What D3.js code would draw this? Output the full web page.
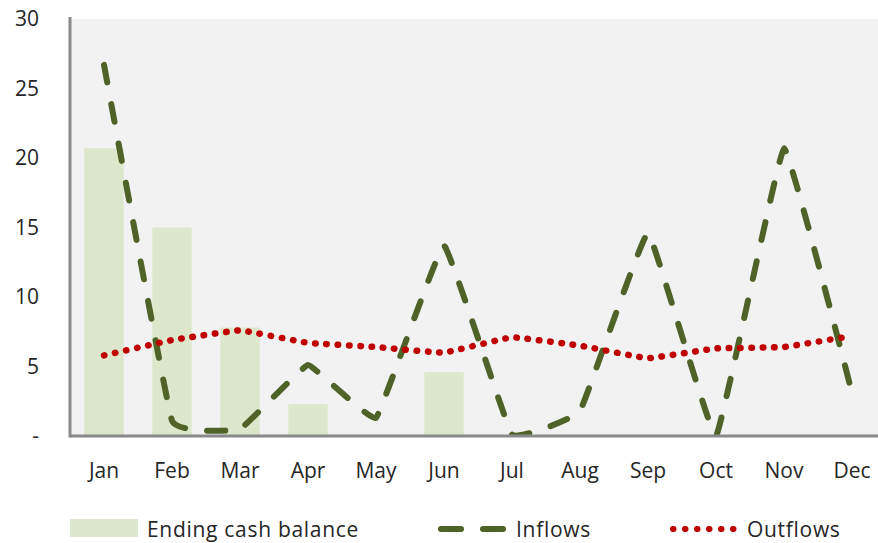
<!DOCTYPE html>
<html><head><meta charset="utf-8">
<script src="https://cdn.jsdelivr.net/npm/d3@7"></script>
<style>body{margin:0;background:#fff}svg{display:block}text{font-family:"Open Sans",sans-serif}</style>
</head><body>
<svg id="c" width="878" height="543"></svg>
<script>
const months = ["Jan","Feb","Mar","Apr","May","Jun","Jul","Aug","Sep","Oct","Nov","Dec"];
const endingCash = [20.7,15.0,7.8,2.3,0,4.6,0,0,0,0,0,0];
const inflows = [26.7,1.1,0.5,5.1,1.3,13.7,0.1,1.8,14.6,0,20.7,3.1];
const outflows = [5.8,6.9,7.6,6.7,6.4,6.0,7.1,6.5,5.6,6.3,6.4,7.2];
const yTicks = [0,5,10,15,20,25,30];
const yTickLabels = ["-","5","10","15","20","25","30"];
const legendLabels = ["Ending cash balance","Inflows","Outflows"];

const svg = d3.select("#c");
const pL = 70, pR = 886, pT = 19, pB = 436;
const x = d3.scaleBand().domain(months).range([pL, pR]).paddingInner(0.42).paddingOuter(0.21);
const y = d3.scaleLinear().domain([0,30]).range([pB, pT]);

svg.append("defs").append("clipPath").attr("id","pc").append("rect")
  .attr("x", pL).attr("y", 0).attr("width", 878-pL).attr("height", pB+1);

svg.append("rect").attr("x", pL).attr("y", pT).attr("width", 878-pL).attr("height", pB-pT).attr("fill","#f2f2f2");

svg.append("g").selectAll("rect").data(endingCash).join("rect")
  .attr("x",(d,i)=>x(months[i])).attr("width",x.bandwidth())
  .attr("y",d=>y(d)).attr("height",d=>pB-y(d)).attr("fill","#dde7cb");

const line = d3.line().x((d,i)=>x(months[i])+x.bandwidth()/2).y(d=>y(d)).curve(d3.curveCardinal.tension(0.78));

const g = svg.append("g").attr("clip-path","url(#pc)");
g.append("path").datum(inflows).attr("d",line).attr("fill","none").attr("stroke","#4f6228")
  .attr("stroke-width",6).attr("stroke-dasharray","18,22").attr("stroke-linecap","round").attr("stroke-linejoin","round");
g.append("path").datum(outflows).attr("d",line).attr("fill","none").attr("stroke","#c00000")
  .attr("stroke-width",6.5).attr("stroke-dasharray","0.5,10.8").attr("stroke-linecap","round");

// axes
const yAxis = d3.axisLeft(y).tickValues(yTicks).tickFormat((d,i)=>yTickLabels[i]).tickSize(0).tickPadding(31);
const ya = svg.append("g").attr("transform",`translate(${pL},0)`).call(yAxis);
ya.select(".domain").remove();
ya.selectAll("text").attr("font-size",21).attr("fill","#262626").attr("font-family","Open Sans, sans-serif");

const xAxis = d3.axisBottom(x).tickSize(0).tickPadding(27);
const xa = svg.append("g").attr("transform",`translate(0,${pB})`).call(xAxis);
xa.select(".domain").remove();
xa.selectAll("text").attr("font-size",21).attr("fill","#262626").attr("font-family","Open Sans, sans-serif");

svg.append("line").attr("x1",pL).attr("x2",878).attr("y1",pB).attr("y2",pB).attr("stroke","#898989").attr("stroke-width",3);
svg.append("line").attr("x1",pL).attr("x2",pL).attr("y1",17).attr("y2",pB+1.5).attr("stroke","#898989").attr("stroke-width",3);

// legend
const lg = svg.append("g").attr("font-size",21).attr("fill","#262626").attr("letter-spacing","0.7px");
lg.append("rect").attr("x",70).attr("y",519).attr("width",68).attr("height",18).attr("fill","#dde7cb");
lg.append("text").attr("x",147).attr("y",537).text(legendLabels[0]);
lg.append("line").attr("x1",441).attr("x2",503).attr("y1",529).attr("y2",529).attr("stroke","#4f6228").attr("stroke-width",6).attr("stroke-dasharray","20,22").attr("stroke-linecap","round");
lg.append("text").attr("x",516).attr("y",537).text(legendLabels[1]);
lg.append("line").attr("x1",673).attr("x2",736).attr("y1",529).attr("y2",529).attr("stroke","#c00000").attr("stroke-width",6).attr("stroke-dasharray","0.5,11.5").attr("stroke-linecap","round");
lg.append("text").attr("x",747).attr("y",537).text(legendLabels[2]);
</script>
</body></html>
